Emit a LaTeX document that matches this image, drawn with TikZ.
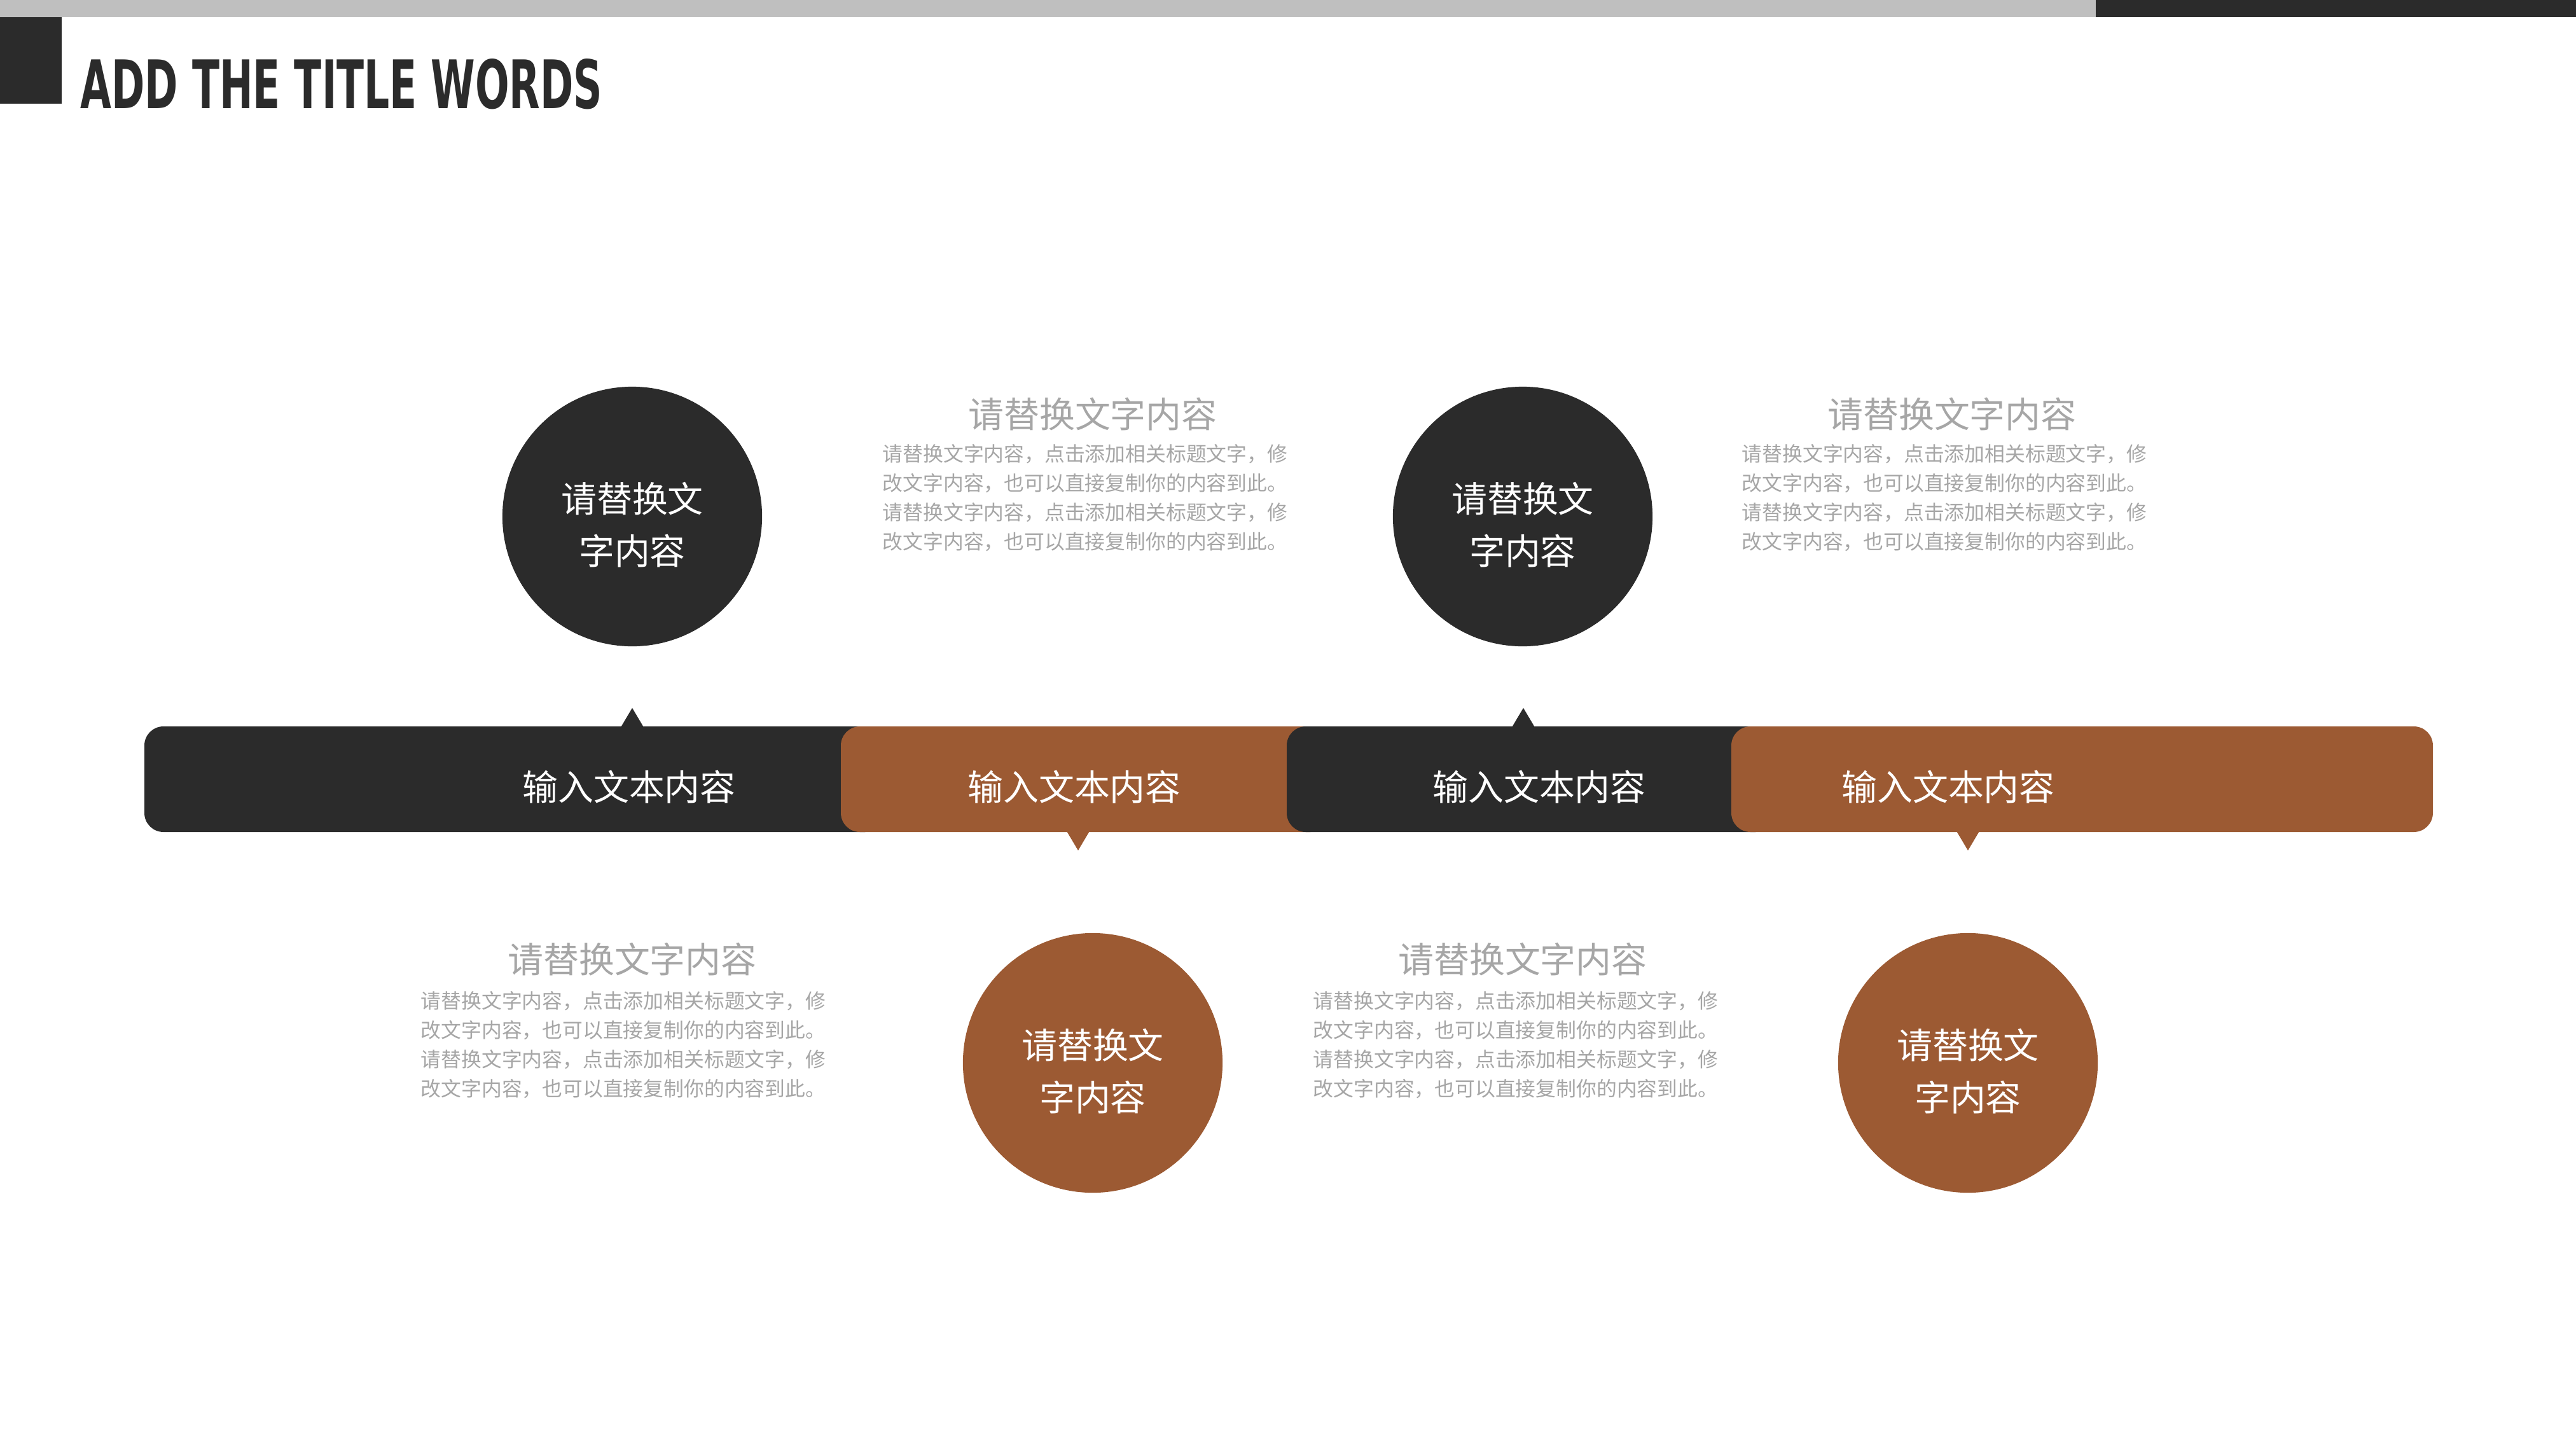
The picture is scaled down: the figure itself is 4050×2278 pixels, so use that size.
\documentclass[tikz,border=0pt]{standalone}
\usepackage{fontspec}
\usepackage{tikz}
\newfontfamily\cjk{Noto Sans CJK SC}
\newfontfamily\titlefont{DejaVu Sans Condensed}
\definecolor{charcoal}{HTML}{2B2B2B}
\definecolor{rust}{HTML}{9C5A33}
\definecolor{topgrey}{HTML}{BFBFBF}
\definecolor{txtgrey}{HTML}{A6A6A6}
\begin{document}
\begin{tikzpicture}[x=0.01cm,y=-0.01cm,
    bubble/.style={circle,inner sep=0pt,minimum size=4.08cm},
    bubbletext/.style={text=white,inner sep=0pt,align=center,
      font=\cjk\fontsize{15.9pt}{23.3pt}\selectfont},
    barlabel/.style={text=white,inner sep=0pt,font=\cjk\fontsize{15.9pt}{19pt}\selectfont},
    headline/.style={text=txtgrey,inner sep=0pt,font=\cjk\fontsize{15.9pt}{19pt}\selectfont},
    bodytext/.style={text=txtgrey,inner sep=0pt,anchor=west,align=left,
      font=\cjk\fontsize{9.05pt}{13.1pt}\selectfont}]
    \useasboundingbox (0,0) rectangle (4050,2278);
    \fill[white] (0,0) rectangle (4050,2278);
    % header
    \fill[topgrey] (0,0) rectangle (3295,27);
    \fill[charcoal] (3295,0) rectangle (4050,27);
    \fill[charcoal] (0,27) rectangle (97,163);
    \node[anchor=south west,inner sep=0pt,text=charcoal] (title) at (126,173)
        {\resizebox{8.2cm}{0.78cm}{\titlefont\bfseries ADD THE TITLE WORDS}};

    % timeline bar
    \fill[charcoal,rounded corners=0.3cm] (227,1142) rectangle (1390,1308);
    \fill[rust,rounded corners=0.3cm] (1322,1142) rectangle (2090,1308);
    \fill[charcoal,rounded corners=0.3cm] (2023,1142) rectangle (2790,1308);
    \fill[rust,rounded corners=0.3cm] (2722,1142) rectangle (3825,1308);
    \fill[charcoal] (975,1145) -- (994,1113) -- (1013,1145) -- cycle;
    \fill[rust] (1676,1305) -- (1695,1337) -- (1714,1305) -- cycle;
    \fill[charcoal] (2376,1145) -- (2395,1113) -- (2414,1145) -- cycle;
    \fill[rust] (3075,1305) -- (3094,1337) -- (3113,1305) -- cycle;
    \node[barlabel] (t1) at (989,1237) {输入文本内容};
    \node[barlabel] (t2) at (1689,1237) {输入文本内容};
    \node[barlabel] (t3) at (2420,1237) {输入文本内容};
    \node[barlabel] (t4) at (3063,1237) {输入文本内容};

    % circles
    \node[bubble,fill=charcoal] (c1) at (994,812) {};
    \node[bubble,fill=charcoal] (c2) at (2394,812) {};
    \node[bubble,fill=rust] (c3) at (1718,1671) {};
    \node[bubble,fill=rust] (c4) at (3094,1671) {};
    \node[bubbletext] (c1text) at (994,825) {请替换文\\字内容};
    \node[bubbletext] (c2text) at (2394,825) {请替换文\\字内容};
    \node[bubbletext] (c3text) at (1718,1684) {请替换文\\字内容};
    \node[bubbletext] (c4text) at (3094,1684) {请替换文\\字内容};

    % text blocks
    \node[headline] (h1) at (1718,651) {请替换文字内容};
    \node[bodytext] (b1) at (1387,783) {请替换文字内容，点击添加相关标题文字，修\\改文字内容，也可以直接复制你的内容到此。\\请替换文字内容，点击添加相关标题文字，修\\改文字内容，也可以直接复制你的内容到此。};
    \node[headline] (h2) at (3069,651) {请替换文字内容};
    \node[bodytext] (b2) at (2738,783) {请替换文字内容，点击添加相关标题文字，修\\改文字内容，也可以直接复制你的内容到此。\\请替换文字内容，点击添加相关标题文字，修\\改文字内容，也可以直接复制你的内容到此。};
    \node[headline] (h3) at (994,1508) {请替换文字内容};
    \node[bodytext] (b3) at (661,1643) {请替换文字内容，点击添加相关标题文字，修\\改文字内容，也可以直接复制你的内容到此。\\请替换文字内容，点击添加相关标题文字，修\\改文字内容，也可以直接复制你的内容到此。};
    \node[headline] (h4) at (2394,1508) {请替换文字内容};
    \node[bodytext] (b4) at (2064,1643) {请替换文字内容，点击添加相关标题文字，修\\改文字内容，也可以直接复制你的内容到此。\\请替换文字内容，点击添加相关标题文字，修\\改文字内容，也可以直接复制你的内容到此。};
\end{tikzpicture}
\end{document}
